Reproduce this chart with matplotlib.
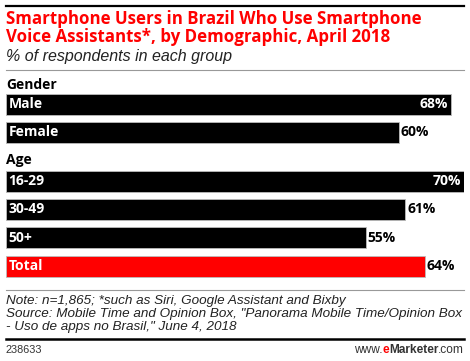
import matplotlib
matplotlib.use("Agg")
import matplotlib.pyplot as plt
from matplotlib.lines import Line2D

# ---- data ----
groups = ["Gender", "Age"]
categories = ["Male", "Female", "16-29", "30-49", "50+", "Total"]
category_group = ["Gender", "Gender", "Age", "Age", "Age", None]
values = [68, 60, 70, 61, 55, 64]

title = "Smartphone Users in Brazil Who Use Smartphone\nVoice Assistants*, by Demographic, April 2018"
subtitle = "% of respondents in each group"
note = ("Note: n=1,865; *such as Siri, Google Assistant and Bixby\n"
        "Source: Mobile Time and Opinion Box, \"Panorama Mobile Time/Opinion Box\n"
        "- Uso de apps no Brasil,\" June 4, 2018")
chart_id = "238633"

W, H = 470, 361
fig = plt.figure(figsize=(W / 100, H / 100), dpi=100)

def fx(px):
    return px / W

def fy(py):
    return 1 - py / H

RED = "#ff0000"
BOLD = "Open Sans"

# header
fig.add_artist(Line2D([fx(6), fx(464)], [fy(6), fy(6)], color="black", lw=1.6))
fig.text(fx(6), fy(28), title, color=RED, fontsize=12.2, fontweight="bold",
         family=BOLD, va="center", ha="left", linespacing=1.05)
fig.text(fx(6), fy(57), subtitle, color="#222222", fontsize=11.5, style="italic",
         family="Liberation Sans", va="center", ha="left")
fig.add_artist(Line2D([fx(6), fx(464)], [fy(70), fy(70)], color="#999999", lw=0.8))

# bars axes: spans x 6..464 px, y in pixel coords
ax = fig.add_axes([fx(6), 0, fx(458), 1])
ax.set_xlim(0, max(values))
ax.set_ylim(H, 0)
ax.axis("off")

bar_top = {"Male": 93.5, "Female": 121.5, "16-29": 170.5, "30-49": 198.5, "50+": 227, "Total": 255.5}
bar_h = 21
group_label_y = {"Gender": 85, "Age": 160}
FS = 10

for g in groups:
    ax.text(0, group_label_y[g], g, fontsize=FS, fontweight="bold", family=BOLD,
            va="center", ha="left", color="black")

vmax = max(values)
for cat, val, grp in zip(categories, values, category_group):
    yc = bar_top[cat] + bar_h / 2
    color = RED if cat == "Total" else "black"
    ax.barh(yc, val, height=bar_h, left=0, color=color, edgecolor="#bbbbbb", linewidth=0.6)
    ax.text(0.4, yc, cat, color="white", fontsize=FS, fontweight="bold", family=BOLD,
            va="center", ha="left")
    if val >= vmax - 2.5:
        ax.text(val - 0.45, yc, f"{val}%", color="white", fontsize=FS, fontweight="bold",
                family=BOLD, va="center", ha="right")
    else:
        ax.text(val + 0.3, yc, f"{val}%", color="black", fontsize=FS, fontweight="bold",
                family=BOLD, va="center", ha="left")

# footer
fig.add_artist(Line2D([fx(6), fx(464)], [fy(290), fy(290)], color="#999999", lw=0.8))
fig.text(fx(6), fy(314), note, color="#222222", fontsize=9.7, style="italic",
         family="Liberation Sans", va="center", ha="left", linespacing=1.12)
fig.add_artist(Line2D([fx(6), fx(464)], [fy(339), fy(339)], color="black", lw=1.8))
fig.text(fx(6), fy(350), chart_id, color="#333333", fontsize=7.8, family="Liberation Sans",
         va="center", ha="left")

# build the logo right-to-left
fig.canvas.draw()
r = fig.canvas.get_renderer()
x_right = fx(464)
def place(txt, **kw):
    global x_right
    t = fig.text(x_right, fy(350), txt, va="center", ha="right", **kw)
    bb = t.get_window_extent(renderer=r)
    x_right = x_right - bb.width / W
    return t

LS = 8.6
place(".com", color="#333333", fontsize=LS, family="Liberation Sans")
place("Marketer", color="#333333", fontsize=LS, family="Liberation Sans", fontweight="bold")
place("e", color=RED, fontsize=LS, family="Liberation Sans", fontweight="bold")
place("www.", color="#333333", fontsize=LS, family="Liberation Sans")

fig.savefig("out.png", dpi=100)
